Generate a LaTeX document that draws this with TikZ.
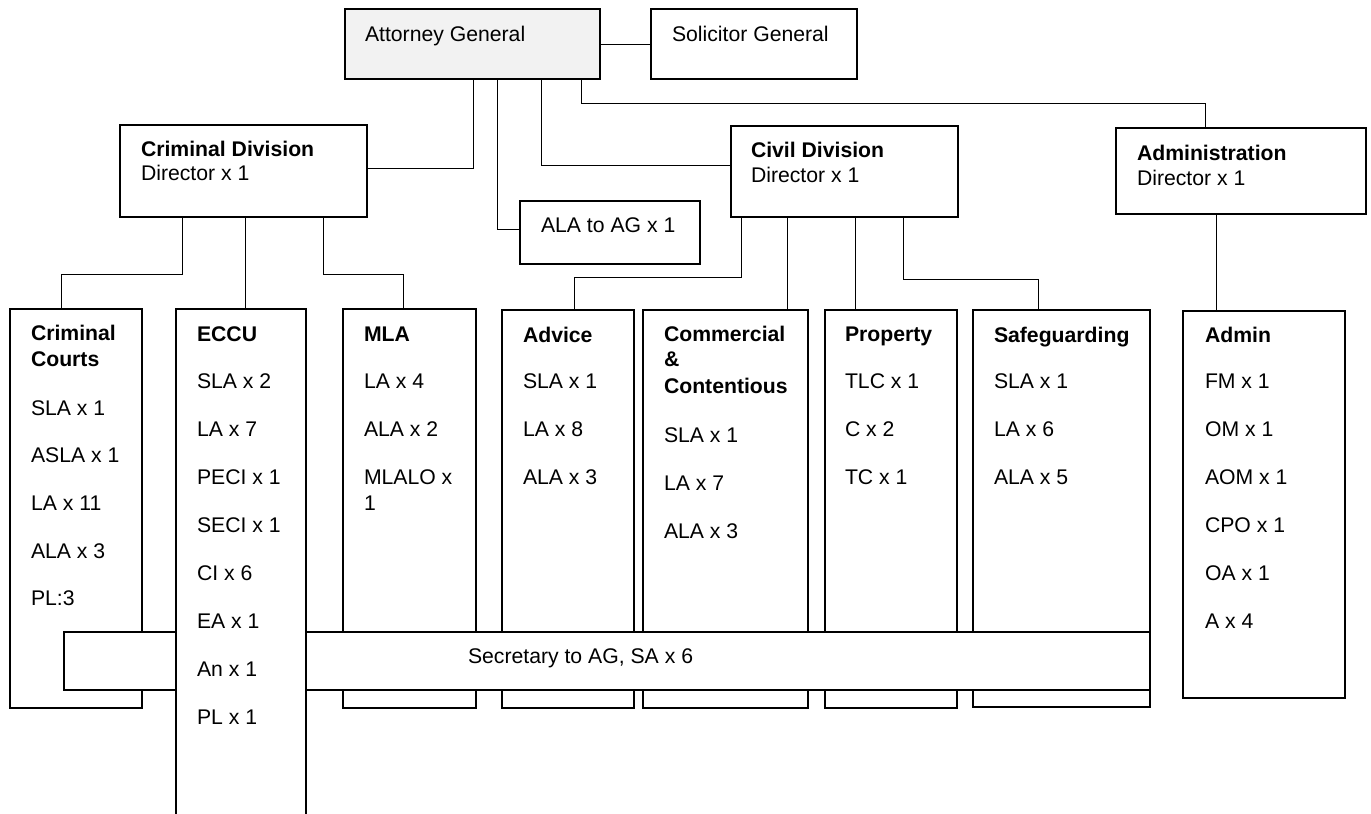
\documentclass[tikz,border=0pt]{standalone}
\usepackage{fontspec}
\setmainfont{Liberation Sans}
\usetikzlibrary{calc}
\definecolor{aggray}{HTML}{F2F2F2}
\tikzset{
  box/.style={draw, line width=1.6pt, inner sep=0pt, outer sep=0pt, anchor=north west, fill=white},
  barbox/.style={draw, line width=1.1pt, inner sep=0pt, outer sep=0pt, anchor=north west, fill=white},
  conn/.style={line width=0.9pt},
  txt/.style={inner sep=0pt, outer sep=0pt, anchor=base west, font=\fontsize{21.2}{25}\selectfont},
  btxt/.style={txt, font=\fontsize{21.2}{25}\selectfont\bfseries}
}
\begin{document}
\begin{tikzpicture}[x=1pt,y=-1pt]
\useasboundingbox (0,0) rectangle (1371,814);
\clip (0,0) rectangle (1371,814);
% top level boxes
\node[box, fill=aggray, minimum width=255pt, minimum height=70pt] (ag) at (345,9) {};
\node[box, minimum width=206pt, minimum height=70pt] (sg) at (651,9) {};
\node[box, minimum width=247pt, minimum height=92pt] (cd) at (120,125) {};
\node[box, minimum width=180pt, minimum height=63pt] (ala) at (520,201) {};
\node[box, minimum width=227pt, minimum height=91pt] (civ) at (731,126) {};
\node[box, minimum width=250pt, minimum height=86pt] (adm) at (1116,128) {};
% column boxes
\node[box, minimum width=132pt, minimum height=399pt] (cc) at (10,309) {};
\node[box, minimum width=133pt, minimum height=399pt] (mla) at (343,309) {};
\node[box, minimum width=132pt, minimum height=398pt] (adv) at (502,310) {};
\node[box, minimum width=165pt, minimum height=398pt] (com) at (643,310) {};
\node[box, minimum width=132pt, minimum height=398pt] (prop) at (825,310) {};
\node[box, minimum width=177pt, minimum height=397pt] (safe) at (973,310) {};
\node[box, minimum width=162pt, minimum height=387pt] (admn) at (1183,311) {};
% top texts
\node[txt] (tag) at (365,41) {Attorney General};
\node[txt] (tsg) at (672,41) {Solicitor General};
\node[btxt] (tcd1) at (141,156) {Criminal Division};
\node[txt] (tcd2) at (141,180) {Director x 1};
\node[txt] (tala) at (541,232) {ALA to AG x 1};
\node[btxt] (tciv1) at (751,157) {Civil Division};
\node[txt] (tciv2) at (751,182) {Director x 1};
\node[btxt] (tadm1) at (1137,160) {Administration};
\node[txt] (tadm2) at (1137,185) {Director x 1};
% Criminal Courts
\node[btxt] (tcc1) at (31,340) {Criminal};
\node[btxt] (tcc2) at (31,366) {Courts};
\foreach \t [count=\i] in {SLA x 1, ASLA x 1, LA x 11, ALA x 3, PL:3}
  \node[txt] (cc-\i) at (31,{415+47.7*(\i-1)}) {\t};
% MLA
\node[btxt] (tmla) at (364,341) {MLA};
\foreach \t [count=\i] in {LA x 4, ALA x 2, MLALO x}
  \node[txt] (mla-\i) at (364,{388+48*(\i-1)}) {\t};
\node[txt] (mla-4) at (364,510) {1};
% Advice
\node[btxt] (tadv) at (523,342) {Advice};
\foreach \t [count=\i] in {SLA x 1, LA x 8, ALA x 3}
  \node[txt] (adv-\i) at (523,{388+48*(\i-1)}) {\t};
% Commercial & Contentious
\node[btxt] (tcom1) at (664,341) {Commercial};
\node[btxt] (tcom2) at (664,366) {\&};
\node[btxt] (tcom3) at (664,393) {Contentious};
\foreach \t [count=\i] in {SLA x 1, LA x 7, ALA x 3}
  \node[txt] (com-\i) at (664,{442+48*(\i-1)}) {\t};
% Property
\node[btxt] (tprop) at (845,341) {Property};
\foreach \t [count=\i] in {TLC x 1, C x 2, TC x 1}
  \node[txt] (prop-\i) at (845,{388+48*(\i-1)}) {\t};
% Safeguarding
\node[btxt] (tsafe) at (994,342) {Safeguarding};
\foreach \t [count=\i] in {SLA x 1, LA x 6, ALA x 5}
  \node[txt] (safe-\i) at (994,{388+48*(\i-1)}) {\t};
% Admin
\node[btxt] (tadmn) at (1205,342) {Admin};
\foreach \t [count=\i] in {FM x 1, OM x 1, AOM x 1, CPO x 1, OA x 1, A x 4}
  \node[txt] (admn-\i) at (1205,{388+48*(\i-1)}) {\t};
% Secretary bar
\node[barbox, minimum width=1086pt, minimum height=58pt] (bar) at (64,632) {};
\node[txt] (tbar) at (468,663) {Secretary to AG, SA x 6};
% ECCU on top of bar
\node[box, minimum width=130pt, minimum height=530pt] (eccu) at (176,309) {};
\node[btxt] (teccu) at (197,341) {ECCU};
\foreach \t [count=\i] in {SLA x 2, LA x 7, PECI x 1, SECI x 1, CI x 6, EA x 1, An x 1, PL x 1}
  \node[txt] (eccu-\i) at (197,{388+48*(\i-1)}) {\t};
% connectors
\draw[conn] (ag.east) -- (sg.west);
\draw[conn] ($(ag.south west)+(128,0)$) |- ($(cd.east)+(0,-3)$);
\draw[conn] ($(ag.south west)+(152.5,0)$) |- ($(ala.west)+(0,-3.5)$);
\draw[conn] ($(ag.south west)+(196,0)$) |- ($(civ.west)+(0,-6.5)$);
\draw[conn] ($(ag.south west)+(236,0)$) -- ++(0,24) -| ($(adm.north west)+(89,0)$);
\draw[conn] ($(cd.south west)+(62,0)$) -- ++(0,57) -| ($(cc.north west)+(51,0)$);
\draw[conn] ($(cd.south west)+(125,0)$) coordinate (e1) -- (e1 |- eccu.north);
\draw[conn] ($(cd.south west)+(203,0)$) -- ++(0,57) -| ($(mla.north west)+(60,0)$);
\draw[conn] ($(civ.south west)+(10,0)$) -- ++(0,60) -| ($(adv.north west)+(72,0)$);
\draw[conn] ($(civ.south west)+(56,0)$) coordinate (c2) -- (c2 |- com.north);
\draw[conn] ($(civ.south west)+(124,0)$) coordinate (c3) -- (c3 |- prop.north);
\draw[conn] ($(civ.south west)+(172,0)$) -- ++(0,62) -| ($(safe.north west)+(65,0)$);
\draw[conn] ($(adm.south west)+(100,0)$) coordinate (a1) -- (a1 |- admn.north);
\end{tikzpicture}
\end{document}
